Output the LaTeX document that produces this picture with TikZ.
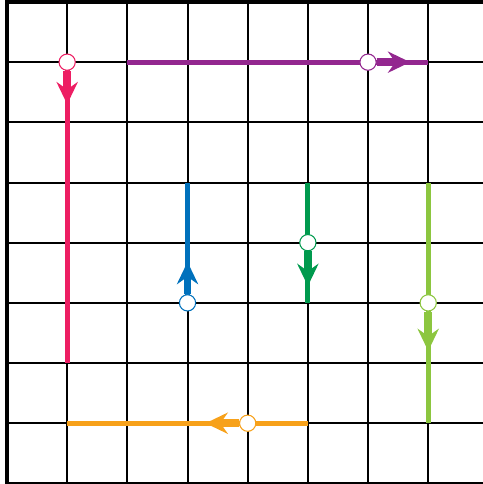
\documentclass[tikz,border=0pt]{standalone}
\usetikzlibrary{arrows.meta}
\definecolor{cpink}{HTML}{ED1E63}
\definecolor{cpurple}{HTML}{93278F}
\definecolor{cblue}{HTML}{0071BC}
\definecolor{cdgreen}{HTML}{009A4E}
\definecolor{clgreen}{HTML}{8CC63F}
\definecolor{corange}{HTML}{F7A11A}
\tikzset{
  gridline/.style={line width=0.95pt, black},
  borderline/.style={line width=1.6pt, black},
  track/.style={line width=2.4pt},
  dirarrow/.style={line width=3.6pt, -{Stealth[length=10.5pt 0, width=10pt 0, inset=3.5pt 0]}},
  dot/.style={circle, draw=#1, fill=white, line width=0.5pt, minimum size=0.27cm, inner sep=0pt}
}
\begin{document}
\begin{tikzpicture}
\useasboundingbox (-0.116,-0.01) rectangle (7.907,8.033);
\begin{scope}
\clip (-0.116,-0.01) rectangle (7.907,8.033);
\draw[gridline] (0,0) grid (8,8);
\draw[borderline] (0,0) rectangle (8,8);
\end{scope}
% endpoints
\coordinate (pA) at (1,7); \coordinate (pB) at (1,2);
\coordinate (uA) at (2,7); \coordinate (uB) at (7,7);
\coordinate (bA) at (3,3); \coordinate (bB) at (3,5);
\coordinate (gA) at (5,5); \coordinate (gB) at (5,3);
\coordinate (lA) at (7,5); \coordinate (lB) at (7,1);
\coordinate (oA) at (5,1); \coordinate (oB) at (1,1);
% arrow tips
\coordinate (pT) at (1,6.3);
\coordinate (uT) at (6.7,7);
\coordinate (bT) at (3,3.68);
\coordinate (gT) at (5,3.28);
\coordinate (lT) at (7,2.2);
\coordinate (oT) at (3.3,1);
% tracks
\draw[track, cpink] (pA) -- (pB);
\draw[track, cpurple] (uA) -- (uB);
\draw[track, cblue] (bA) -- (bB);
\draw[track, cdgreen] (gA) -- (gB);
\draw[track, clgreen] (lA) -- (lB);
\draw[track, corange] (oA) -- (oB);
% circles
\node[dot=cpink] (pC) at (1,7) {};
\node[dot=cpurple] (uC) at (6,7) {};
\node[dot=cblue] (bC) at (3,3) {};
\node[dot=cdgreen] (gC) at (5,4) {};
\node[dot=clgreen] (lC) at (7,3) {};
\node[dot=corange] (oC) at (4,1) {};
% arrows
\draw[dirarrow, cpink] (pC) -- (pT);
\draw[dirarrow, cpurple] (uC) -- (uT);
\draw[dirarrow, cblue] (bC) -- (bT);
\draw[dirarrow, cdgreen] (gC) -- (gT);
\draw[dirarrow, clgreen] (lC) -- (lT);
\draw[dirarrow, corange] (oC) -- (oT);
\end{tikzpicture}
\end{document}
